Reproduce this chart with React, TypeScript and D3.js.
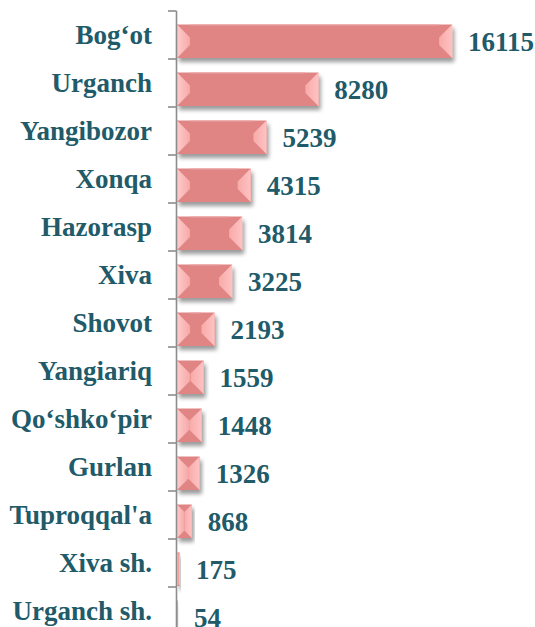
import React from "react";
import * as d3 from "d3";

const categories = [
  "Bog‘ot", "Urganch", "Yangibozor", "Xonqa", "Hazorasp", "Xiva", "Shovot",
  "Yangiariq", "Qo‘shko‘pir", "Gurlan", "Tuproqqal'a", "Xiva sh.", "Urganch sh.",
];
const values = [16115, 8280, 5239, 4315, 3814, 3225, 2193, 1559, 1448, 1326, 868, 175, 54];

const W = 535;
const H = 627;
const axisX = 176.5;
const top = 11;
const step = 48;

export default function App() {
  const y = d3
    .scaleBand<string>()
    .domain(categories)
    .range([top, top + step * categories.length])
    .paddingInner(0)
    .paddingOuter(0);
  const x = d3.scaleLinear().domain([0, 18000]).range([177, 177 + 307.3]);
  const font = "'Liberation Serif', 'Times New Roman', serif";
  const textColor = "#215A69";
  const main = "#E08583";

  const ticks = d3.range(categories.length + 1).map((i) => top + i * step);

  return (
    <svg
      width={W}
      height={H}
      style={{ position: "absolute", left: 0, top: 0, background: "#fff" }}
    >
      <defs>
        <filter id="sh" x="-10%" y="-30%" width="130%" height="180%">
          <feGaussianBlur in="SourceAlpha" stdDeviation="2.2" />
          <feOffset dx="2" dy="4" result="b" />
          <feComponentTransfer>
            <feFuncA type="linear" slope="0.4" />
          </feComponentTransfer>
          <feMerge>
            <feMergeNode />
            <feMergeNode in="SourceGraphic" />
          </feMerge>
        </filter>
        <linearGradient id="gl" x1="0" x2="1" y1="0" y2="0">
          <stop offset="0" stopColor="#FFCACA" />
          <stop offset="1" stopColor="#F5A9A8" />
        </linearGradient>
        <linearGradient id="gr" x1="1" x2="0" y1="0" y2="0">
          <stop offset="0" stopColor="#FFC2C2" />
          <stop offset="1" stopColor="#F7ABAA" />
        </linearGradient>
      </defs>

      {categories.map((c, i) => {
        const v = values[i];
        const b0 = y(c)!;
        const y0 = b0 + 13.5;
        const y1 = b0 + step - 1;
        const x0 = x(0);
        const x1 = x(v);
        const w = x1 - x0;
        const h = y1 - y0;
        const bv = Math.min(13, w / 2, h / 2);
        const ym = (y0 + y1) / 2;
        const pts = (p: number[][]) => p.map((q) => q.join(",")).join(" ");
        return (
          <g key={c}>
            {w > 0.5 && (
              <g filter="url(#sh)">
                <rect x={x0} y={y0} width={w} height={h} fill={main} />
                <polygon
                  points={pts([
                    [x0, y0],
                    [x0 + bv, y0 + bv],
                    [x0 + bv, y1 - bv],
                    [x0, y1],
                  ])}
                  fill="url(#gl)"
                />
                <polygon
                  points={pts([
                    [x1, y0],
                    [x1 - bv, y0 + bv],
                    [x1 - bv, y1 - bv],
                    [x1, y1],
                  ])}
                  fill="url(#gr)"
                />
                <line x1={x0 + bv} x2={x1 - bv} y1={y0 + 0.5} y2={y0 + 0.5} stroke="#EBA3A2" strokeWidth={1} />
              </g>
            )}
            <text
              x={x1 + 16}
              y={ym + 9.5}
              fontFamily={font}
              fontWeight="bold"
              fontSize={27}
              fill={textColor}
            >
              {v}
            </text>
            <text
              x={152}
              y={b0 + step / 2 + 9}
              textAnchor="end"
              fontFamily={font}
              fontWeight="bold"
              fontSize={27}
              fill={textColor}
            >
              {c}
            </text>
          </g>
        );
      })}

      <line x1={axisX} x2={axisX} y1={top} y2={H + 20} stroke="#8C8C8C" strokeWidth={1.6} />
      {ticks.map((t) => (
        <line key={t} x1={168} x2={axisX} y1={t} y2={t} stroke="#8C8C8C" strokeWidth={1.6} />
      ))}
    </svg>
  );
}
